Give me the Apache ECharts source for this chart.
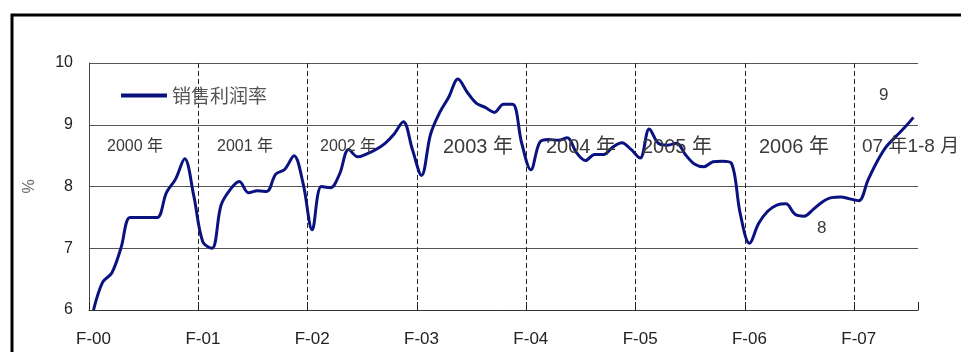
<!DOCTYPE html>
<html>
<head>
<meta charset="utf-8">
<script src="https://cdn.jsdelivr.net/npm/echarts@6/dist/echarts.min.js"></script>
<style>
html,body{margin:0;padding:0;background:#fff;}
#chart{width:961px;height:352px;}
</style>
</head>
<body>
<div id="chart"></div>
<script>
// Monthly (cumulative) sales profit margin, Feb 2000 .. Aug 2007
var seriesName = '销售利润率';
var startYear = 2000, startMonth = 2;
var profitRate = [
  6.0, 6.45, 6.6, 7.0, 7.5, 7.5, 7.5, 7.5, 7.9, 8.12, 8.45, 7.85,
  7.1, 7.0, 7.7, 7.95, 8.08, 7.9, 7.93, 7.92, 8.2, 8.28, 8.5, 8.05,
  7.3, 8.0, 7.98, 8.2, 8.6, 8.48, 8.53, 8.6, 8.7, 8.85, 9.05, 8.6,
  8.18, 8.85, 9.2, 9.45, 9.74, 9.53, 9.35, 9.28, 9.2, 9.33, 9.33, 8.7,
  8.27, 8.72, 8.76, 8.75, 8.79, 8.55, 8.42, 8.52, 8.52, 8.64, 8.71, 8.6,
  8.46, 8.93, 8.7, 8.67, 8.7, 8.51, 8.36, 8.32, 8.4, 8.41, 8.38, 7.55,
  7.08, 7.4, 7.6, 7.7, 7.72, 7.55, 7.52, 7.63, 7.75, 7.82, 7.83, 7.8,
  7.77, 8.1, 8.4, 8.64, 8.8, 8.95, 9.12
];
var yearTickLabels = ['F-00','F-01','F-02','F-03','F-04','F-05','F-06','F-07'];
var yTicks = [6, 7, 8, 9, 10];
var yearNotes = ['2000 年','2001 年','2002 年','2003 年','2004 年','2005 年','2006 年','07 年1-8 月'];
var sideNotes = ['9','8'];

// category names: every February carries the "F-yy" label
var categories = profitRate.map(function (v, i) {
  var m = startMonth - 1 + i;
  var y = startYear + Math.floor(m / 12);
  var mo = (m % 12) + 1;
  return mo === 2 ? yearTickLabels[y - startYear] : (y + '-' + (mo < 10 ? '0' : '') + mo);
});

var chart = echarts.init(document.getElementById('chart'), null, {renderer: 'canvas'});
var sans = "'Liberation Sans', Arial, 'Noto Sans CJK SC', sans-serif";
var noteStyle = function (txt, x, y, size) {
  return {type: 'text', left: x, top: y, z: 10,
    style: {text: txt, fill: '#3a3a3a', font: size + 'px ' + sans}};
};
chart.setOption({
  animation: false,
  backgroundColor: '#fff',
  grid: {left: 89, right: 43, top: 63, bottom: 42, containLabel: false},
  legend: {
    left: 121, top: 86, padding: 0,
    itemWidth: 46, itemHeight: 4, icon: 'rect',
    textStyle: {fontSize: 19, color: '#555', fontFamily: "'Noto Sans CJK SC', sans-serif"},
    data: [seriesName]
  },
  xAxis: {
    type: 'category',
    data: categories,
    boundaryGap: true,
    axisLine: {show: true, lineStyle: {color: '#333', width: 1}},
    axisTick: {show: true, inside: true, length: 8, interval: 11, lineStyle: {color: '#222'}},
    axisLabel: {interval: 11, margin: 21, fontSize: 17, color: '#222', fontFamily: sans},
    splitLine: {show: true, interval: 11, showMaxLine: false,
      lineStyle: {color: '#222', width: 1, type: [5, 3]}}
  },
  yAxis: {
    type: 'value',
    min: yTicks[0], max: yTicks[yTicks.length - 1], interval: 1,
    name: '%', nameLocation: 'middle', nameGap: 51, nameRotate: 90,
    nameTextStyle: {fontSize: 16, color: '#666', fontFamily: sans},
    axisLine: {show: true, lineStyle: {color: '#444', width: 1}},
    axisTick: {show: false},
    axisLabel: {fontSize: 16, color: '#222', margin: 16, fontFamily: sans},
    splitLine: {show: true, lineStyle: {color: '#555', width: 1.2}}
  },
  series: [{
    name: seriesName,
    type: 'line',
    data: profitRate,
    smooth: 0.35,
    symbol: 'none',
    lineStyle: {color: '#0a1280', width: 3},
    itemStyle: {color: '#0a1280'}
  }],
  graphic: [
    {type: 'rect', z: 20, shape: {x: 12, y: 15, width: 1200, height: 600},
      style: {fill: null, stroke: '#000', lineWidth: 3}},
    noteStyle(yearNotes[0], 107, 139, 16),
    noteStyle(yearNotes[1], 217, 139, 16),
    noteStyle(yearNotes[2], 320, 139, 16),
    noteStyle(yearNotes[3], 443, 137, 20),
    noteStyle(yearNotes[4], 546, 137, 20),
    noteStyle(yearNotes[5], 642, 137, 20),
    noteStyle(yearNotes[6], 759, 137, 20),
    noteStyle(yearNotes[7], 862, 137, 19),
    noteStyle(sideNotes[0], 879, 87, 17),
    noteStyle(sideNotes[1], 817, 220, 17)
  ]
});
</script>
</body>
</html>
